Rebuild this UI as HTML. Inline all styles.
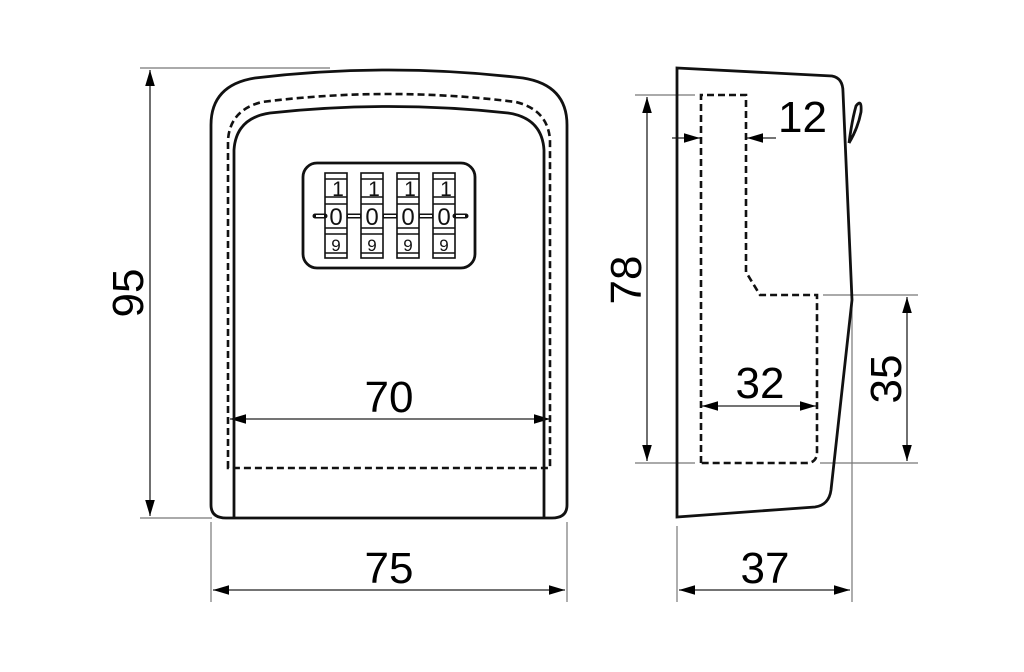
<!DOCTYPE html>
<html><head><meta charset="utf-8"><style>html,body{margin:0;padding:0;background:#fff}svg{display:block}</style></head>
<body>
<svg width="1024" height="672" viewBox="0 0 1024 672" xmlns="http://www.w3.org/2000/svg" font-family="Liberation Sans, sans-serif">
<defs>
<marker id="a" viewBox="0 0 10 6" refX="10" refY="3" markerWidth="16" markerHeight="10" markerUnits="userSpaceOnUse" orient="auto-start-reverse"><path d="M0,0L10,3L0,6z" fill="#000"/></marker>
</defs>
<g stroke="#777" stroke-width="1.2" fill="none">
<line x1="140" y1="68" x2="330" y2="68"/>
<line x1="140" y1="518" x2="212" y2="518"/>
<line x1="211" y1="522" x2="211" y2="602"/>
<line x1="567" y1="522" x2="567" y2="602"/>
<line x1="635" y1="95" x2="695" y2="95"/>
<line x1="635" y1="463" x2="695" y2="463"/>
<line x1="823" y1="295" x2="918" y2="295"/>
<line x1="820" y1="463" x2="918" y2="463"/>
<line x1="677" y1="526" x2="677" y2="602"/>
<line x1="852" y1="300" x2="852" y2="602"/>
</g>
<g stroke="#222" stroke-width="1.3" fill="none">
<line x1="150" y1="70" x2="150" y2="516" marker-start="url(#a)" marker-end="url(#a)"/>
<line x1="213" y1="590" x2="565" y2="590" marker-start="url(#a)" marker-end="url(#a)"/>
<line x1="230" y1="419" x2="550" y2="419" marker-start="url(#a)" marker-end="url(#a)"/>
<line x1="647" y1="97" x2="647" y2="461" marker-start="url(#a)" marker-end="url(#a)"/>
<line x1="672" y1="138" x2="700" y2="138" marker-end="url(#a)"/>
<line x1="776" y1="138" x2="747" y2="138" marker-end="url(#a)"/>
<line x1="907" y1="297" x2="907" y2="461" marker-start="url(#a)" marker-end="url(#a)"/>
<line x1="702" y1="406" x2="816" y2="406" marker-start="url(#a)" marker-end="url(#a)"/>
<line x1="679" y1="590" x2="850" y2="590" marker-start="url(#a)" marker-end="url(#a)"/>
</g>
<g stroke="#111" stroke-width="2.8" fill="none">
<path d="M211,505 L211,125 Q211,85 255,78 Q389,62 523,78 Q567,85 567,125 L567,505 Q567,518 552,518 L226,518 Q211,518 211,505Z"/>
<path d="M234,518 L234,150 Q236,118 270,113 Q389,100 508,113 Q542,118 544,150 L544,518"/>
<rect x="303" y="163" width="172" height="105" rx="14"/>
<path d="M677,68 L832,76 Q843,78 843,92 L852,300 L831,490 Q829,505 815,507 L677,517 Z"/>
<path d="M849,143 Q852,120 856,106 Q862,98 861,112 Q858,128 849,143"/>
</g>
<g stroke="#111" stroke-width="2.6" fill="none" stroke-dasharray="7,4">
<path d="M228,468 L228,140 Q230,110 262,102 Q389,86 516,102 Q548,110 550,140 L550,468 Z"/>
<path d="M701,463 L701,95 L746,95 L746,272 L760,295 L817,295 L817,452 Q817,463 806,463 Z"/>
</g>
<g stroke="#111" stroke-width="1.6" fill="none">
<g id="w">
<rect x="325" y="173" width="22" height="85"/>
<line x1="325" y1="179" x2="347" y2="179"/>
<line x1="325" y1="197" x2="347" y2="197"/>
<line x1="325" y1="204" x2="347" y2="204"/>
<line x1="325" y1="228" x2="347" y2="228"/>
<line x1="325" y1="234" x2="347" y2="234"/>
<line x1="325" y1="253" x2="347" y2="253"/>
</g>
<use href="#w" x="36"/><use href="#w" x="72"/><use href="#w" x="108"/>
<line x1="315" y1="216" x2="325" y2="216" stroke-width="5" stroke-linecap="round"/>
<line x1="347" y1="216" x2="361" y2="216" stroke-width="5"/>
<line x1="383" y1="216" x2="397" y2="216" stroke-width="5"/>
<line x1="419" y1="216" x2="433" y2="216" stroke-width="5"/>
<line x1="455" y1="216" x2="466" y2="216" stroke-width="5" stroke-linecap="round"/>
<line x1="316" y1="216" x2="324" y2="216" stroke="#fff" stroke-width="2"/>
<line x1="348" y1="216" x2="360" y2="216" stroke="#fff" stroke-width="2"/>
<line x1="384" y1="216" x2="396" y2="216" stroke="#fff" stroke-width="2"/>
<line x1="420" y1="216" x2="432" y2="216" stroke="#fff" stroke-width="2"/>
<line x1="456" y1="216" x2="465" y2="216" stroke="#fff" stroke-width="2"/>
</g>
<g font-size="21" text-anchor="middle" fill="#111">
<text x="338" y="196">1</text><text x="374" y="196">1</text><text x="410" y="196">1</text><text x="446" y="196">1</text>
<text x="336" y="225" font-size="24">0</text><text x="372" y="225" font-size="24">0</text><text x="408" y="225" font-size="24">0</text><text x="444" y="225" font-size="24">0</text>
<text x="336" y="251" font-size="17">9</text><text x="372" y="251" font-size="17">9</text><text x="408" y="251" font-size="17">9</text><text x="444" y="251" font-size="17">9</text>
</g>
<g font-size="44" text-anchor="middle" fill="#000">
<text x="389" y="412">70</text>
<text x="389" y="583">75</text>
<text x="778" y="132" text-anchor="start">12</text>
<text x="760" y="398">32</text>
<text x="765" y="583">37</text>
<text transform="translate(143,293) rotate(-90)">95</text>
<text transform="translate(641,280) rotate(-90)">78</text>
<text transform="translate(901,379) rotate(-90)">35</text>
</g>
</svg>
</body></html>
